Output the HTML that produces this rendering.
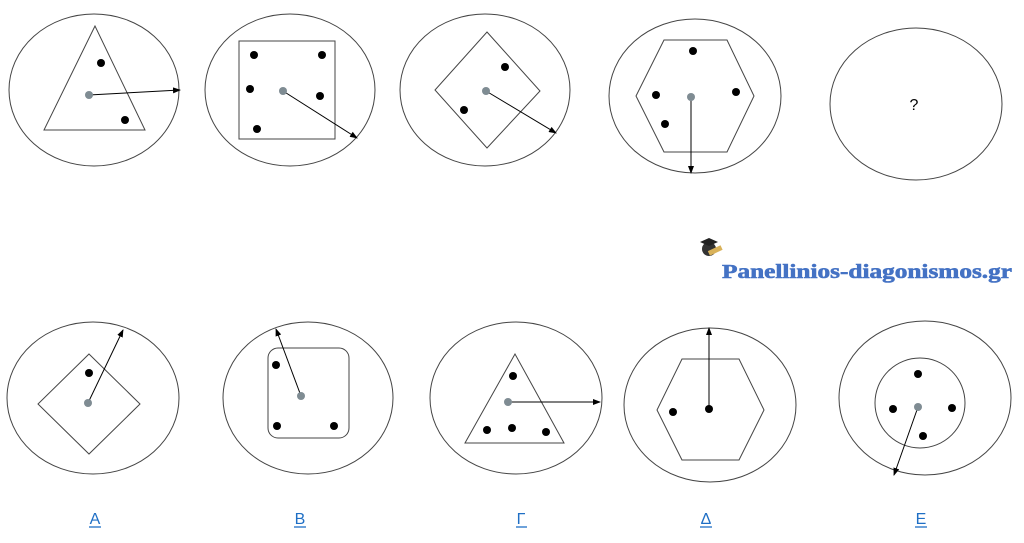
<!DOCTYPE html>
<html><head><meta charset="utf-8"><style>
html,body{margin:0;padding:0;background:#fff;width:1024px;height:543px;overflow:hidden}
</style></head><body>
<svg width="1024" height="543" viewBox="0 0 1024 543" xmlns="http://www.w3.org/2000/svg">
<defs><marker id="ar" markerWidth="8" markerHeight="6" refX="7" refY="3" orient="auto" markerUnits="userSpaceOnUse"><path d="M0,0 L8,3 L0,6 z" fill="#000"/></marker></defs>
<g fill="none" stroke="#444" stroke-width="1">
<ellipse cx="94" cy="90" rx="85" ry="76"/>
<ellipse cx="290" cy="90" rx="85" ry="76"/>
<ellipse cx="485" cy="90" rx="85" ry="76"/>
<ellipse cx="695" cy="96" rx="86" ry="77"/>
<ellipse cx="916" cy="104" rx="86" ry="76"/>
<polygon points="95,26 44,130 145,130"/>
<rect x="239" y="41" width="96" height="98"/>
<polygon points="487,32 540,91 487,148 435,90"/>
<polygon points="664,40 727,40 754,96 727,152 664,152 636,96"/>
<ellipse cx="93" cy="398" rx="86" ry="76"/>
<ellipse cx="308" cy="398" rx="85" ry="76"/>
<ellipse cx="516" cy="398" rx="86" ry="76"/>
<ellipse cx="710" cy="405" rx="86" ry="77"/>
<ellipse cx="925" cy="398" rx="86" ry="77"/>
<polygon points="89,354 140,404 89,454 38,404"/>
<rect x="268" y="348" width="81" height="90" rx="10"/>
<polygon points="515,354 465,443 564,443"/>
<polygon points="682,359 739,359 764,410 739,460 682,460 657,410"/>
<circle cx="920" cy="403" r="45"/>
</g>
<g stroke="#000" stroke-width="1" marker-end="url(#ar)">
<line x1="89" y1="95" x2="180" y2="90"/>
<line x1="283" y1="91" x2="357" y2="138"/>
<line x1="486" y1="91" x2="556" y2="133"/>
<line x1="691" y1="97" x2="691" y2="173"/>
<line x1="88" y1="403" x2="123" y2="330"/>
<line x1="301" y1="396" x2="276" y2="329"/>
<line x1="508" y1="402" x2="600" y2="402"/>
<line x1="709" y1="409" x2="709" y2="328"/>
<line x1="918" y1="407" x2="894" y2="475"/>
</g>
<g fill="#000">
<circle cx="101" cy="63" r="4"/><circle cx="125" cy="120" r="4"/>
<circle cx="254" cy="55" r="4"/><circle cx="322" cy="55" r="4"/><circle cx="250" cy="89" r="4"/><circle cx="320" cy="96" r="4"/><circle cx="257" cy="129" r="4"/>
<circle cx="505" cy="67" r="4"/><circle cx="464" cy="110" r="4"/>
<circle cx="693" cy="51" r="4"/><circle cx="656" cy="95" r="4"/><circle cx="736" cy="92" r="4"/><circle cx="665" cy="124" r="4"/>
<circle cx="89" cy="373" r="4"/>
<circle cx="276" cy="365" r="4"/><circle cx="277" cy="426" r="4"/><circle cx="334" cy="426" r="4"/>
<circle cx="513" cy="376" r="4"/><circle cx="487" cy="430" r="4"/><circle cx="512" cy="428" r="4"/><circle cx="546" cy="432" r="4"/>
<circle cx="673" cy="412" r="4"/><circle cx="709" cy="409" r="4"/>
<circle cx="918" cy="374" r="4"/><circle cx="893" cy="409" r="4"/><circle cx="952" cy="408" r="4"/><circle cx="923" cy="436" r="4"/>
</g>
<g fill="#7f8c93">
<circle cx="89" cy="95" r="4"/><circle cx="283" cy="91" r="4"/><circle cx="486" cy="91" r="4"/><circle cx="691" cy="97" r="4"/>
<circle cx="88" cy="403" r="4"/><circle cx="301" cy="396" r="4"/><circle cx="508" cy="402" r="4"/><circle cx="918" cy="407" r="4"/>
</g>
<text x="914" y="110" font-family="Liberation Sans, sans-serif" font-size="16" text-anchor="middle">?</text>
<g>
<circle cx="709" cy="249" r="7" fill="#333"/>
<polygon points="700,242 709,238 718,242 709,246" fill="#222"/>
<rect x="708" y="248" width="14" height="5" fill="#d9b25a" transform="rotate(-25 715 250)"/>
</g>
<text x="722" y="278" font-family="Liberation Serif, serif" font-weight="bold" font-size="20" fill="#4472c4" stroke="#4472c4" stroke-width="0.6" textLength="290" lengthAdjust="spacingAndGlyphs">Panellinios-diagonismos.gr</text>
<g font-family="Liberation Sans, sans-serif" font-size="16" fill="#1f6fc5" text-anchor="middle">
<text x="95" y="524">Α</text><text x="300" y="524">Β</text><text x="521" y="524">Γ</text><text x="706" y="524">Δ</text><text x="921" y="524">Ε</text>
</g>
<g stroke="#1f6fc5" stroke-width="1.3">
<line x1="89" y1="527" x2="101" y2="527"/><line x1="294" y1="527" x2="306" y2="527"/><line x1="516" y1="527" x2="527" y2="527"/><line x1="700" y1="527" x2="712" y2="527"/><line x1="915" y1="527" x2="927" y2="527"/>
</g>
</svg>
</body></html>
